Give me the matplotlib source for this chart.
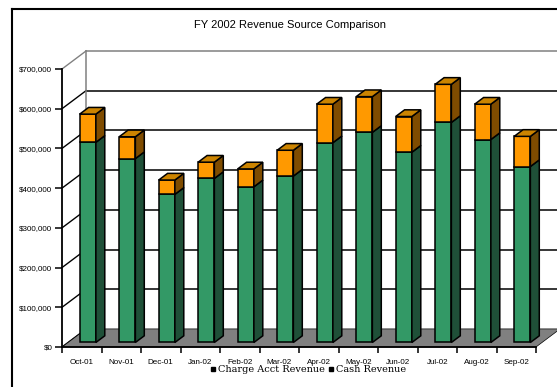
import numpy as np
import matplotlib
matplotlib.use("Agg")
import matplotlib.pyplot as plt
from matplotlib.patches import Polygon
from matplotlib.lines import Line2D
from matplotlib.ticker import FuncFormatter

# data
months = ["Oct-01", "Nov-01", "Dec-01", "Jan-02", "Feb-02", "Mar-02",
          "Apr-02", "May-02", "Jun-02", "Jul-02", "Aug-02", "Sep-02"]
cash_revenue = [504000, 463000, 373000, 413000, 392000, 419000,
                503000, 529000, 479000, 554000, 511000, 443000]
charge_revenue = [71000, 55000, 36000, 41000, 45000, 65000,
                  97000, 90000, 90000, 96000, 89000, 76000]
y_ticks = [0, 100000, 200000, 300000, 400000, 500000, 600000, 700000]

GREEN, GREEN_SIDE, GREEN_TOP = "#339966", "#1f5038", "#2b8058"
ORANGE, ORANGE_SIDE, ORANGE_TOP = "#ff9900", "#7f4c00", "#cc8400"

DX, DY = 0.61, 45500      # depth of the 3d box (category units, value units)
BW = 0.41                 # bar width
B0, B1 = 0.25, 0.62       # bar front / back as fraction of box depth
LW = 1.1

plt.rcParams["font.family"] = ["Liberation Sans", "DejaVu Sans"]

fig = plt.figure(figsize=(5.57, 3.87), dpi=100)
ax = fig.add_axes([62 / 557, 40 / 387, 474 / 557, 278 / 387])
ax.set_xlim(-0.5, 11.5)
ax.set_ylim(0, 700000)

x = np.arange(len(months))
x_left, x_right = -0.5, len(months) - 0.5

# back wall grid lines and the diagonals coming off the front axis
for v in y_ticks[1:]:
    c = "#808080" if v == y_ticks[-1] else "black"
    ax.plot([x_left + DX, x_right + DX + 1], [v + DY, v + DY],
            color=c, lw=LW, clip_on=False, zorder=1)
for v in y_ticks:
    c = "#808080" if v == y_ticks[-1] else "black"
    ax.plot([x_left, x_left + DX], [v, v + DY], color=c, lw=LW * 0.9,
            clip_on=False, zorder=1)
ax.plot([x_left + DX, x_left + DX], [DY, y_ticks[-1] + DY],
        color="#808080", lw=LW, clip_on=False, zorder=1)

# floor
ax.add_patch(Polygon([(x_left, 0), (x_right, 0), (x_right + DX, DY),
                      (x_left + DX, DY)], closed=True, fc="#808080",
                     ec="black", lw=0.5, clip_on=False, zorder=2))

# bars: front faces through ax.bar, side and top faces as polygons
base = B0 * DY
xf = x + B0 * DX
ddx, ddy = (B1 - B0) * DX, (B1 - B0) * DY
cash = np.array(cash_revenue)
charge = np.array(charge_revenue)

ax.bar(xf, cash, width=BW, bottom=base, color=GREEN, edgecolor="black",
       lw=LW, zorder=4, clip_on=False)
ax.bar(xf, charge, width=BW, bottom=base + cash, color=ORANGE,
       edgecolor="black", lw=LW, zorder=4, clip_on=False)

for i in range(len(months)):
    xl, xr = xf[i] - BW / 2, xf[i] + BW / 2
    segs = [(base, base + cash[i], GREEN_SIDE),
            (base + cash[i], base + cash[i] + charge[i], ORANGE_SIDE)]
    for lo, hi, col in segs:
        ax.add_patch(Polygon([(xr, lo), (xr + ddx, lo + ddy),
                              (xr + ddx, hi + ddy), (xr, hi)], closed=True,
                             fc=col, ec="black", lw=LW, zorder=4,
                             clip_on=False))
    top = base + cash[i] + charge[i]
    ax.add_patch(Polygon([(xl, top), (xr, top), (xr + ddx, top + ddy),
                          (xl + ddx, top + ddy)], closed=True, fc=ORANGE_TOP,
                         ec="black", lw=LW, zorder=4, clip_on=False))

# axes
for s in ["top", "right"]:
    ax.spines[s].set_visible(False)
for s in ["left", "bottom"]:
    ax.spines[s].set_linewidth(1.3)
    ax.spines[s].set_zorder(5)

ax.set_yticks(y_ticks)
ax.yaxis.set_major_formatter(FuncFormatter(lambda v, p: "${:,.0f}".format(v)))
ax.tick_params(axis="y", direction="out", length=5, width=LW,
               labelsize=5.8, pad=2)
ax.set_xticks(x, months)
ax.set_xticks(np.arange(x_left, x_right + 0.1, 1), minor=True)
ax.tick_params(axis="x", which="major", length=0, labelsize=5.8, pad=9)
ax.tick_params(axis="x", which="minor", direction="out", length=4,
               width=LW)

ax.set_title("FY 2002 Revenue Source Comparison")
ax.title.set_visible(False)
fig.text(290 / 557, 1 - 24.5 / 387, "FY 2002 Revenue Source Comparison",
         ha="center", va="center", fontsize=8)

handles = [Line2D([], [], ls="none", marker="s", color="black", markersize=3),
           Line2D([], [], ls="none", marker="s", color="black", markersize=3)]
fig.legend(handles, ["Charge Acct Revenue", "Cash Revenue"], ncol=2,
           loc="center", bbox_to_anchor=(308 / 557, 1 - 370 / 387),
           frameon=False, handlelength=0.6, handletextpad=0.2,
           columnspacing=0.3, borderpad=0,
           prop={"family": ["DejaVu Serif"], "size": 7})

# outer chart frame
fig.add_artist(Line2D([12 / 557, 12 / 557], [0, 1 - 9 / 387],
                      transform=fig.transFigure, color="black", lw=1.5))
fig.add_artist(Line2D([12 / 557, 1], [1 - 9 / 387, 1 - 9 / 387],
                      transform=fig.transFigure, color="black", lw=1.5))

fig.savefig("out.png", dpi=100)
